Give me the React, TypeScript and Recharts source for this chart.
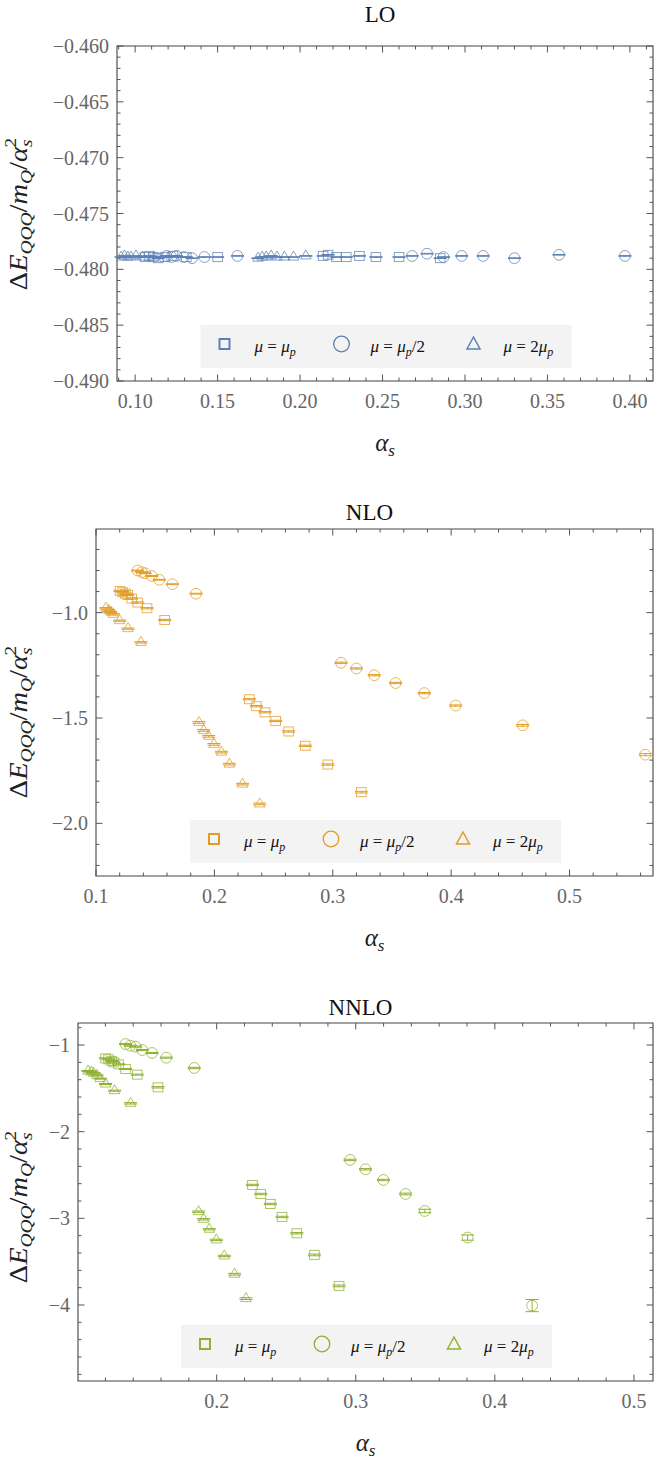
import React from 'react';
import { ScatterChart, Scatter, XAxis, YAxis, ErrorBar, ReferenceArea } from 'recharts';

// ---------------- DATA ----------------
// LO
const loSqX = [0.1060, 0.1085, 0.1110, 0.1140, 0.1180, 0.1230, 0.1310, 0.1500, 0.2140, 0.2170, 0.2220, 0.2280, 0.2360, 0.2460, 0.2600, 0.2850];
const loSqY = [-0.4789, -0.4788, -0.4789, -0.4790, -0.4789, -0.4788, -0.4789, -0.4789, -0.4788, -0.4787, -0.4789, -0.4789, -0.4788, -0.4789, -0.4789, -0.4790];
const loSqE = [0.00003, 0.00003, 0.00003, 0.00003, 0.00003, 0.00003, 0.00003, 0.00003, 0.00003, 0.00003, 0.00003, 0.00003, 0.00003, 0.00003, 0.00003, 0.00003];
const loCiX = [0.1190, 0.1220, 0.1250, 0.1295, 0.1345, 0.1420, 0.1620, 0.2680, 0.2770, 0.2870, 0.2980, 0.3110, 0.3300, 0.3570, 0.3970];
const loCiY = [-0.4788, -0.4789, -0.4788, -0.4789, -0.4790, -0.4789, -0.4788, -0.4788, -0.4786, -0.4789, -0.4788, -0.4788, -0.4790, -0.4787, -0.4788];
const loCiE = [0.00003, 0.00003, 0.00003, 0.00003, 0.00003, 0.00003, 0.00003, 0.00003, 0.00003, 0.00003, 0.00003, 0.00003, 0.00003, 0.00003, 0.00003];
const loTrX = [0.0915, 0.0935, 0.0955, 0.0975, 0.1005, 0.1045, 0.1115, 0.1745, 0.1770, 0.1795, 0.1825, 0.1860, 0.1905, 0.1960, 0.2035];
const loTrY = [-0.4789, -0.4788, -0.4789, -0.4789, -0.4788, -0.4789, -0.4789, -0.4790, -0.4789, -0.4789, -0.4788, -0.4789, -0.4789, -0.4789, -0.4788];
const loTrE = [0.00003, 0.00003, 0.00003, 0.00003, 0.00003, 0.00003, 0.00003, 0.00003, 0.00003, 0.00003, 0.00003, 0.00003, 0.00003, 0.00003, 0.00003];

// NLO
const nloSqX = [0.1203, 0.1225, 0.1247, 0.1268, 0.1301, 0.1352, 0.1431, 0.1580, 0.2295, 0.2355, 0.2428, 0.2518, 0.2627, 0.2768, 0.2958, 0.3241];
const nloSqY = [-0.897, -0.903, -0.910, -0.916, -0.933, -0.952, -0.979, -1.035, -1.411, -1.444, -1.473, -1.514, -1.564, -1.632, -1.721, -1.852];
const nloSqE = [0.003, 0.003, 0.003, 0.003, 0.003, 0.003, 0.003, 0.003, 0.003, 0.003, 0.003, 0.003, 0.003, 0.003, 0.003, 0.004];
const nloCiX = [0.1352, 0.1386, 0.1414, 0.1471, 0.1535, 0.1645, 0.1845, 0.3070, 0.3200, 0.3350, 0.3531, 0.3773, 0.4038, 0.4604, 0.5640];
const nloCiY = [-0.800, -0.808, -0.813, -0.826, -0.844, -0.865, -0.910, -1.238, -1.265, -1.297, -1.334, -1.382, -1.441, -1.535, -1.674];
const nloCiE = [0.002, 0.002, 0.002, 0.002, 0.002, 0.002, 0.002, 0.003, 0.003, 0.003, 0.003, 0.003, 0.003, 0.004, 0.005];
const nloTrX = [0.1084, 0.1107, 0.1124, 0.1146, 0.1200, 0.1270, 0.1380, 0.1870, 0.1910, 0.1952, 0.1997, 0.2060, 0.2127, 0.2238, 0.2383];
const nloTrY = [-0.979, -0.989, -0.997, -1.008, -1.038, -1.076, -1.141, -1.521, -1.559, -1.587, -1.625, -1.662, -1.719, -1.814, -1.908];
const nloTrE = [0.003, 0.003, 0.003, 0.003, 0.003, 0.003, 0.003, 0.004, 0.004, 0.004, 0.004, 0.004, 0.004, 0.004, 0.004];

// NNLO
const nnSqX = [0.1201, 0.1223, 0.1245, 0.1261, 0.1295, 0.1345, 0.1429, 0.1578, 0.2257, 0.2317, 0.2386, 0.2470, 0.2576, 0.2703, 0.2880];
const nnSqY = [-1.154, -1.165, -1.185, -1.200, -1.223, -1.277, -1.342, -1.488, -2.615, -2.719, -2.834, -2.984, -3.172, -3.422, -3.780];
const nnSqE = [0.006, 0.006, 0.006, 0.006, 0.006, 0.006, 0.006, 0.008, 0.008, 0.008, 0.008, 0.008, 0.008, 0.01, 0.01];
const nnCiX = [0.1345, 0.1379, 0.1417, 0.1465, 0.1535, 0.1638, 0.1839, 0.2959, 0.3070, 0.3199, 0.3358, 0.3496, 0.3804, 0.4268];
const nnCiY = [-0.989, -1.008, -1.019, -1.058, -1.092, -1.146, -1.265, -2.326, -2.434, -2.557, -2.719, -2.915, -3.222, -4.007];
const nnCiE = [0.006, 0.006, 0.006, 0.006, 0.006, 0.006, 0.008, 0.008, 0.008, 0.008, 0.01, 0.02, 0.03, 0.07];
const nnTrX = [0.1075, 0.1098, 0.1115, 0.1139, 0.1163, 0.1201, 0.1266, 0.1381, 0.1870, 0.1906, 0.1947, 0.1998, 0.2055, 0.2129, 0.2211];
const nnTrY = [-1.300, -1.310, -1.325, -1.350, -1.388, -1.450, -1.527, -1.673, -2.923, -3.011, -3.126, -3.249, -3.434, -3.645, -3.926];
const nnTrE = [0.006, 0.006, 0.006, 0.006, 0.006, 0.006, 0.006, 0.008, 0.008, 0.008, 0.008, 0.008, 0.008, 0.01, 0.01];

// Ticks
const loXMajor = [0.10, 0.15, 0.20, 0.25, 0.30, 0.35, 0.40];
const loYMajor = [-0.490, -0.485, -0.480, -0.475, -0.470, -0.465, -0.460];
const nloXMajor = [0.1, 0.2, 0.3, 0.4, 0.5];
const nloYMajor = [-2.0, -1.5, -1.0];
const nnXMajor = [0.2, 0.3, 0.4, 0.5];
const nnYMajor = [-4, -3, -2, -1];

const titles = ['LO', 'NLO', 'NNLO'];

// ---------------- HELPERS ----------------
const W = 655;
const PLOT_RIGHT = 653;
const XAXIS_H = 40;
const FONT = 'Liberation Serif, DejaVu Serif, serif';

const zip = (xs: number[], ys: number[], es: number[]) => xs.map((x, i) => ({ x, y: ys[i], e: es[i] }));

const steps = (from: number, to: number, step: number) => {
  const out: number[] = [];
  const n = Math.round((to - from) / step);
  for (let i = 0; i <= n; i++) out.push(Math.round((from + i * step) * 1e6) / 1e6);
  return out;
};

const isMajor = (v: number, majors: number[]) => majors.some((m) => Math.abs(m - v) < 1e-9);

const fmt = (v: number, d: number) => {
  const s = Math.abs(v).toFixed(d);
  return v < 0 ? '\u2212' + s : s;
};

type Shape = 'square' | 'circle' | 'triangle';

const makeShape = (kind: Shape, color: string) => (props: any) => {
  const { cx, cy } = props;
  if (cx == null || cy == null) return <g />;
  const common = { fill: 'none', stroke: color, strokeWidth: 1, strokeOpacity: 0.75 };
  if (kind === 'square') return <rect x={cx - 4.8} y={cy - 4.5} width={9.6} height={9} {...common} />;
  if (kind === 'circle') return <circle cx={cx} cy={cy} r={5.4} {...common} />;
  const w = 10.5, h = 9;
  return <polygon points={`${cx},${cy - (h * 2) / 3} ${cx - w / 2},${cy + h / 3} ${cx + w / 2},${cy + h / 3}`} {...common} />;
};

const LegendSymbol = ({ kind, color, x, y }: { kind: Shape; color: string; x: number; y: number }) => {
  if (kind === 'square') return <rect x={x - 5} y={y - 5} width={10} height={10} fill="none" stroke={color} strokeWidth={2} />;
  if (kind === 'circle') return <circle cx={x} cy={y} r={7.8} fill="none" stroke={color} strokeWidth={1.3} />;
  return <polygon points={`${x},${y - 7} ${x - 6.5},${y + 5} ${x + 6.5},${y + 5}`} fill="none" stroke={color} strokeWidth={1.5} />;
};

const MuLabel = ({ x, y, which }: { x: number; y: number; which: number }) => (
  <text x={x} y={y} style={{ fontFamily: FONT }} fontSize={17} fill="#111">
    <tspan fontStyle="italic">μ</tspan>
    <tspan> = </tspan>
    {which === 2 ? <tspan>2</tspan> : null}
    <tspan fontStyle="italic">μ</tspan>
    <tspan fontStyle="italic" fontSize={12} dy={4}>p</tspan>
    {which === 1 ? <tspan dy={-4}>/2</tspan> : null}
  </text>
);

interface PanelCfg {
  top: number;
  plotLeft: number;
  plotTop: number;
  plotBottom: number;
  xDomain: [number, number];
  yDomain: [number, number];
  xTicks: number[];
  yTicks: number[];
  xMajor: number[];
  yMajor: number[];
  xDec: number;
  yDec: number;
  color: string;
  title: string;
  titleY: number;
  sq: { x: number; y: number; e: number }[];
  ci: { x: number; y: number; e: number }[];
  tr: { x: number; y: number; e: number }[];
  yTitleY: number;
}

const FRAME = '#444';
const TICKC = '#555';

function Panel({ c }: { c: PanelCfg }) {
  const height = c.plotBottom - c.top + XAXIS_H;
  const margin = { top: c.plotTop - c.top, right: W - PLOT_RIGHT, bottom: 0, left: 0 };
  const pt = c.plotTop - c.top;
  const pb = c.plotBottom - c.top;
  const pl = c.plotLeft;
  const pr = PLOT_RIGHT;

  const XTick = (p: any) => {
    const v = p.payload.value;
    const x = p.payload.coordinate ?? p.x;
    const major = isMajor(v, c.xMajor);
    const len = major ? 6.5 : 3.5;
    return (
      <g>
        <line x1={x} x2={x} y1={pb} y2={pb - len} stroke={TICKC} strokeWidth={1} />
        <line x1={x} x2={x} y1={pt} y2={pt + len} stroke={TICKC} strokeWidth={1} />
        {major ? (
          <text x={x} y={pb + 27} textAnchor="middle" style={{ fontFamily: FONT }} fontSize={20} fill="#666">
            {fmt(v, c.xDec)}
          </text>
        ) : null}
      </g>
    );
  };

  const YTick = (p: any) => {
    const v = p.payload.value;
    const y = p.payload.coordinate ?? p.y;
    const major = isMajor(v, c.yMajor);
    const len = major ? 6.5 : 3.5;
    return (
      <g>
        <line x1={pl} x2={pl + len} y1={y} y2={y} stroke={TICKC} strokeWidth={1} />
        <line x1={pr} x2={pr - len} y1={y} y2={y} stroke={TICKC} strokeWidth={1} />
        {major ? (
          <text x={pl - 8} y={y + 7} textAnchor="end" style={{ fontFamily: FONT }} fontSize={20} fill="#666">
            {fmt(v, c.yDec)}
          </text>
        ) : null}
      </g>
    );
  };

  const plotCenter = (pl + pr) / 2;
  const boxW = 371;
  const boxH = 43;
  const boxX = plotCenter - boxW / 2 + 1;
  const boxY = c.plotBottom - 13 - boxH;
  const kinds: Shape[] = ['square', 'circle', 'triangle'];
  const symDx = [24, 141, 273];
  const labDx = [54, 170, 303];

  return (
    <>
      <div style={{ position: 'absolute', left: 0, top: c.top }}>
        <ScatterChart width={W} height={height} margin={margin}>
          <XAxis
            type="number"
            dataKey="x"
            domain={c.xDomain}
            ticks={c.xTicks}
            interval={0}
            allowDataOverflow
            axisLine={false}
            tickLine={false}
            height={XAXIS_H}
            tick={XTick}
          />
          <YAxis
            type="number"
            dataKey="y"
            domain={c.yDomain}
            ticks={c.yTicks}
            interval={0}
            allowDataOverflow
            axisLine={false}
            tickLine={false}
            width={c.plotLeft}
            tick={YTick}
          />
          <ReferenceArea
            x1={c.xDomain[0]}
            x2={c.xDomain[1]}
            y1={c.yDomain[0]}
            y2={c.yDomain[1]}
            fill="none"
            fillOpacity={0}
            stroke={FRAME}
            strokeWidth={1.1}
            ifOverflow="visible"
          />
          <Scatter data={c.sq} shape={makeShape('square', c.color)} isAnimationActive={false}>
            <ErrorBar dataKey="e" direction="y" width={6.5} stroke={c.color} strokeWidth={1} isAnimationActive={false} />
          </Scatter>
          <Scatter data={c.ci} shape={makeShape('circle', c.color)} isAnimationActive={false}>
            <ErrorBar dataKey="e" direction="y" width={6.5} stroke={c.color} strokeWidth={1} isAnimationActive={false} />
          </Scatter>
          <Scatter data={c.tr} shape={makeShape('triangle', c.color)} isAnimationActive={false}>
            <ErrorBar dataKey="e" direction="y" width={6.5} stroke={c.color} strokeWidth={1} isAnimationActive={false} />
          </Scatter>
        </ScatterChart>
      </div>
      <svg
        width={W}
        height={1459}
        style={{ position: 'absolute', left: 0, top: 0, pointerEvents: 'none', fontFamily: FONT }}
      >
        <text x={plotCenter - 5} y={c.titleY} textAnchor="middle" fontSize={23} fill="#111">
          {c.title}
        </text>
        <text x={plotCenter} y={c.plotBottom + 70} textAnchor="middle" fontSize={25} fill="#222">
          <tspan fontStyle="italic">α</tspan>
          <tspan fontStyle="italic" fontSize={17} dy={5}>s</tspan>
        </text>
        <text
          transform={`translate(27,${c.yTitleY}) rotate(-90) scale(1.14,1)`}
          textAnchor="middle"
          fontSize={25}
          fill="#222"
        >
          <tspan>Δ</tspan>
          <tspan fontStyle="italic">E</tspan>
          <tspan fontStyle="italic" fontSize={17} dy={5}>QQQ</tspan>
          <tspan dy={-5}>/</tspan>
          <tspan fontStyle="italic">m</tspan>
          <tspan fontStyle="italic" fontSize={17} dy={5}>Q</tspan>
          <tspan dy={-5}>/</tspan>
          <tspan fontStyle="italic">α</tspan>
          <tspan fontStyle="italic" fontSize={17} dy={5}>s</tspan>
          <tspan fontSize={17} dx={-7} dy={-16}>2</tspan>
        </text>
        <rect x={boxX} y={boxY} width={boxW} height={boxH} fill="#f3f3f3" />
        {kinds.map((k, i) => (
          <g key={k}>
            <LegendSymbol kind={k} color={c.color} x={boxX + symDx[i]} y={boxY + 19} />
            <MuLabel x={boxX + labDx[i]} y={boxY + 27} which={i} />
          </g>
        ))}
      </svg>
    </>
  );
}

const BLUE = '#5e81b5';
const ORANGE = '#e19c24';
const GREEN = '#8fb032';

const panels: PanelCfg[] = [
  {
    top: 30,
    plotLeft: 117,
    plotTop: 46,
    plotBottom: 381,
    xDomain: [0.089, 0.414],
    yDomain: [-0.49, -0.46],
    xTicks: steps(0.09, 0.41, 0.01),
    yTicks: steps(-0.49, -0.46, 0.001),
    xMajor: loXMajor,
    yMajor: loYMajor,
    xDec: 2,
    yDec: 3,
    color: BLUE,
    title: titles[0],
    titleY: 22,
    sq: zip(loSqX, loSqY, loSqE),
    ci: zip(loCiX, loCiY, loCiE),
    tr: zip(loTrX, loTrY, loTrE),
    yTitleY: 214,
  },
  {
    top: 510,
    plotLeft: 96,
    plotTop: 529,
    plotBottom: 876,
    xDomain: [0.1, 0.5705],
    yDomain: [-2.25, -0.603],
    xTicks: steps(0.1, 0.56, 0.02),
    yTicks: steps(-2.2, -0.7, 0.1),
    xMajor: nloXMajor,
    yMajor: nloYMajor,
    xDec: 1,
    yDec: 1,
    color: ORANGE,
    title: titles[1],
    titleY: 519.5,
    sq: zip(nloSqX, nloSqY, nloSqE),
    ci: zip(nloCiX, nloCiY, nloCiE),
    tr: zip(nloTrX, nloTrY, nloTrE),
    yTitleY: 722,
  },
  {
    top: 1004,
    plotLeft: 78,
    plotTop: 1023,
    plotBottom: 1381,
    xDomain: [0.1003, 0.5137],
    yDomain: [-4.877, -0.746],
    xTicks: steps(0.12, 0.5, 0.02),
    yTicks: steps(-4.8, -0.8, 0.2),
    xMajor: nnXMajor,
    yMajor: nnYMajor,
    xDec: 1,
    yDec: 0,
    color: GREEN,
    title: titles[2],
    titleY: 1014.5,
    sq: zip(nnSqX, nnSqY, nnSqE),
    ci: zip(nnCiX, nnCiY, nnCiE),
    tr: zip(nnTrX, nnTrY, nnTrE),
    yTitleY: 1207,
  },
];

export default function App() {
  return (
    <div style={{ position: 'absolute', left: 0, top: 0, width: W, height: 1459, background: '#fff' }}>
      {panels.map((p) => (
        <Panel key={p.title} c={p} />
      ))}
    </div>
  );
}
